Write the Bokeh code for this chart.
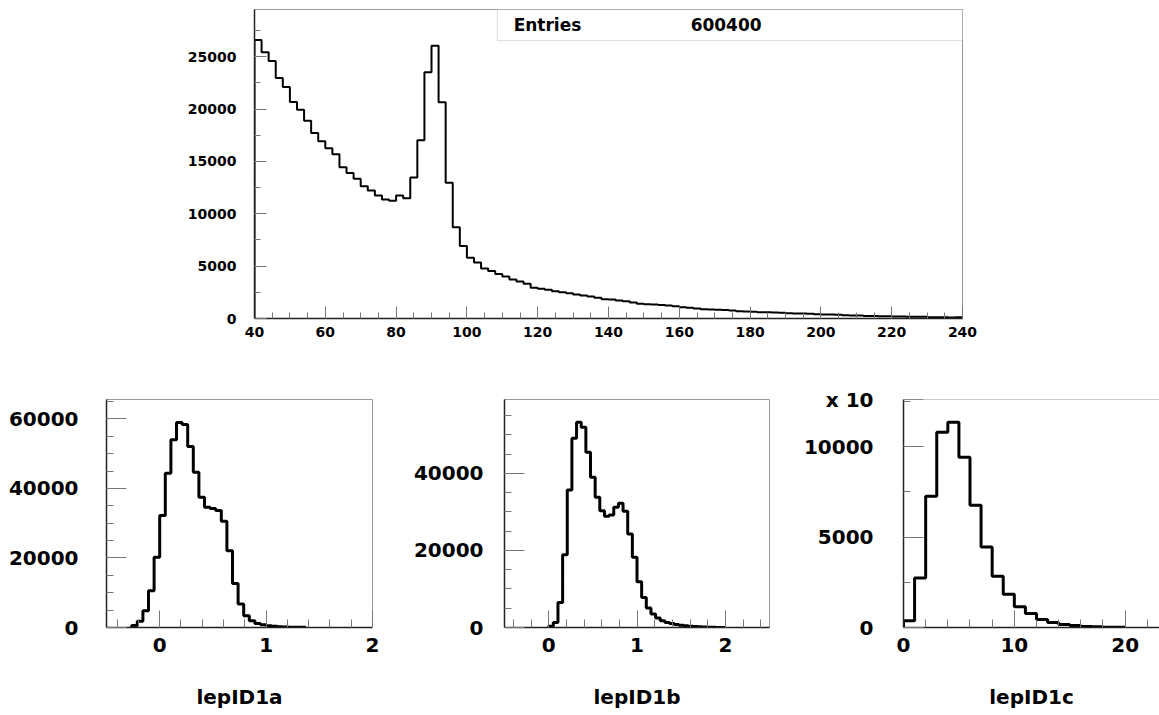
import numpy as np
from bokeh.plotting import figure
from bokeh.layouts import column, row
from bokeh.models import FixedTicker, PrintfTickFormatter, Label, BoxAnnotation, Span
from bokeh.embed import file_html
from bokeh.resources import INLINE

FONT = "DejaVu Sans"

# ---------------- data ----------------
top_lo, top_bin = 40.0, 2.0
top_counts = [
    26590, 25410, 24590, 22960, 22100, 20670, 19940, 18890, 17720, 16920,
    16250, 15680, 14440, 13900, 13330, 12630, 12210, 11740, 11350, 11230,
    11740, 11480, 13450, 17020, 23510, 26050, 20640, 12950, 8710, 6930,
    5790, 5340, 4780, 4530, 4260, 4010, 3720, 3530, 3310, 2930,
    2830, 2740, 2610, 2510, 2420, 2290, 2190, 2100, 1970, 1840,
    1810, 1720, 1650, 1530, 1400, 1370, 1340, 1300, 1240, 1180,
    1080, 1020, 950, 890, 860, 830, 800, 760, 700, 670,
    640, 600, 600, 570, 540, 510, 480, 480, 450, 410,
    380, 380, 350, 320, 290, 290, 250, 250, 220, 220,
    190, 190, 160, 160, 160, 130, 130, 130, 100, 130,
]
top_entries = "600400"
top_xticks = list(range(40, 241, 20))
top_yticks = list(range(0, 25001, 5000))

a_lo, a_bin = -5 / 19, 1 / 19
a_counts = [600, 1800, 4810, 10580, 20180, 32190, 44390, 54000, 59000, 58420,
            52080, 44670, 37470, 34580, 34210, 33630, 30550, 22100, 12680, 6740,
            3370, 1920, 1150, 780, 500, 330, 220, 150, 100, 60, 40]
b_lo, b_bin = 0.0, 1 / 19
b_counts = [300, 1300, 6490, 18880, 35670, 49080, 53240, 51950, 45460, 38970,
            33780, 30320, 28850, 29190, 31180, 32220, 30140, 24260, 18200, 11880,
            7810, 5040, 3480, 2440, 1750, 1320, 1060, 800, 600, 450,
            330, 240, 170, 120, 80, 50, 30, 20]
c_lo, c_bin = 0.0, 1.0
c_counts = [370, 2740, 7260, 10790, 11340, 9410, 6750, 4450, 2830, 1840,
            1140, 770, 440, 280, 165, 110, 60, 35, 20, 10]
titles = ["lepID1a", "lepID1b", "lepID1c"]
c_scale_label = "x 10"
C_YMAX = 12600


def step_xy(lo, w, counts):
    e = lo + w * np.arange(len(counts) + 1)
    xs = [e[0]] + list(e[:-1]) + [e[-1]]
    ys = [0] + list(counts) + [0]
    return xs, ys


def style(p, font_px):
    p.grid.visible = False
    p.outline_line_color = "#9a9a9a"
    p.outline_line_width = 1
    p.background_fill_color = "white"
    p.border_fill_color = "white"
    for ax in (p.xaxis[0], p.yaxis[0]):
        ax.axis_line_color = "#222222"
        ax.axis_line_width = 1.5
        ax.major_tick_line_color = "#777777"
        ax.minor_tick_line_color = "#777777"
        ax.major_tick_out = 0
        ax.minor_tick_out = 0
        ax.major_label_text_font = FONT
        ax.major_label_text_font_style = "bold"
        ax.major_label_text_font_size = font_px
        ax.major_label_text_color = "black"
        ax.formatter = PrintfTickFormatter(format="%d")


# ---------------- top panel ----------------
pt = figure(width=1159, height=358, x_range=(40, 240), y_range=(0, 29500),
            output_backend="svg", toolbar_location=None,
            min_border_left=254, min_border_right=197, min_border_top=9, min_border_bottom=40)
style(pt, "14px")
pt.xaxis.ticker = FixedTicker(ticks=top_xticks, minor_ticks=list(range(40, 241, 5)))
pt.yaxis.ticker = FixedTicker(ticks=top_yticks, minor_ticks=list(range(0, 29500, 2500)))
pt.xaxis.major_tick_in = 12
pt.xaxis.minor_tick_in = 6
pt.yaxis.major_tick_in = 12
pt.yaxis.minor_tick_in = 6
pt.xaxis.major_label_standoff = 8
pt.yaxis.major_label_standoff = 18
xs, ys = step_xy(top_lo, top_bin, top_counts)
pt.step(xs, ys, mode="after", line_color="black", line_width=2)
# statistics box (data coordinates)
pt.add_layout(BoxAnnotation(left=108.6, right=240, top=29500, bottom=26530,
                            fill_color="white", fill_alpha=1.0,
                            line_color="#8c8c8c", line_width=1))
pt.add_layout(Label(x=113.2, y=28050, text="Entries", text_font=FONT, text_font_style="bold",
                    text_font_size="17px", text_baseline="middle", text_color="black"))
pt.add_layout(Label(x=163.2, y=28050, text=top_entries, text_font=FONT, text_font_style="bold",
                    text_font_size="17px", text_baseline="middle", text_color="black"))


# ---------------- bottom panels ----------------
def bottom_fig(width, mbl, mbr, xr, yr, xmaj, xmin, ymaj, ymin, lo, w, counts, title, ystand):
    p = figure(width=width, height=357, x_range=xr, y_range=yr,
               output_backend="svg", toolbar_location=None,
               min_border_left=mbl, min_border_right=mbr, min_border_top=41, min_border_bottom=88)
    style(p, "20px")
    p.xaxis.ticker = FixedTicker(ticks=xmaj, minor_ticks=xmin)
    p.yaxis.ticker = FixedTicker(ticks=ymaj, minor_ticks=ymin)
    p.xaxis.major_tick_in = 17
    p.xaxis.minor_tick_in = 8
    p.yaxis.major_tick_in = 20
    p.yaxis.minor_tick_in = 7
    p.xaxis.major_label_standoff = 10
    p.yaxis.major_label_standoff = ystand
    p.xaxis.axis_label = title
    p.xaxis.axis_label_text_font = FONT
    p.xaxis.axis_label_text_font_style = "bold"
    p.xaxis.axis_label_text_font_size = "20px"
    p.xaxis.axis_label_text_color = "black"
    p.xaxis.axis_label_standoff = 30
    xs, ys = step_xy(lo, w, counts)
    p.step(xs, ys, mode="after", line_color="black", line_width=3)
    return p


pa = bottom_fig(388, 106, 16, (-0.5, 2.0), (0, 65600),
                [0, 1, 2], list(np.round(np.arange(-0.4, 2.01, 0.2), 2)),
                [0, 20000, 40000, 60000], list(range(0, 65600, 5000)),
                a_lo, a_bin, a_counts, titles[0], 28)
pb = bottom_fig(400, 116, 19, (-0.5, 2.5), (0, 59150),
                [0, 1, 2], list(np.round(np.arange(-0.4, 2.41, 0.2), 2)),
                [0, 20000, 40000], list(range(0, 59150, 5000)),
                b_lo, b_bin, b_counts, titles[1], 21)
pc = bottom_fig(371, 115, 0, (0, 23.1), (0, C_YMAX),
                [0, 10, 20], list(range(0, 24, 2)),
                [0, 5000, 10000, C_YMAX - 10], list(range(0, C_YMAX, 2500)),
                c_lo, c_bin, c_counts, titles[2], 30)
pc.yaxis.major_label_overrides = {C_YMAX - 10: c_scale_label}
pc.outline_line_color = None
pc.add_layout(Span(location=C_YMAX, dimension="width", line_color="#9a9a9a", line_width=1))

layout = column(pt, row(pa, pb, pc))
open("out.html", "w").write(file_html(layout, INLINE))
